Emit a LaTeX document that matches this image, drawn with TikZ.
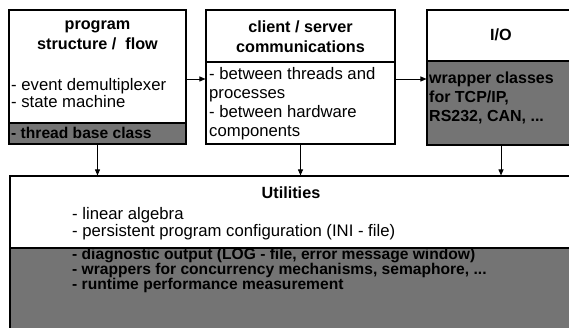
\documentclass[tikz,border=0pt]{standalone}
\usepackage{fontspec}
\setmainfont{Liberation Sans}
\usetikzlibrary{arrows.meta}
\definecolor{shade}{HTML}{747474}
\tikzset{
  frame/.style={draw=black, line width=1.1pt, fill=white, inner sep=0pt},
  band/.style={fill=shade, draw=none},
  flow/.style={draw=black, line width=0.9pt, -{Triangle[length=6pt,width=5pt]}},
  title/.style={inner sep=0pt, align=center, font=\fontsize{16.2pt}{20pt}\selectfont\bfseries},
  body/.style={inner sep=0pt, align=left, anchor=west, font=\fontsize{16.7pt}{18pt}\selectfont},
  dark/.style={inner sep=0pt, align=left, anchor=west, font=\fontsize{15.6pt}{15pt}\selectfont\bfseries},
}
\begin{document}
\begin{tikzpicture}[x=1pt,y=-1pt]
\clip (0,0) rectangle (569,328);
\fill[white] (0,0) rectangle (569,328);

% shaded lower parts of the boxes
\fill[band] (9,123) rectangle (186,144);
\fill[band] (427,61) rectangle (575,145);
\fill[band] (10,248) rectangle (575,345);

% the box outlines
\node[frame, fill=none, minimum width=177pt, minimum height=134pt] (prog) at (97.5,77) {};
\node[frame, fill=none, minimum width=189pt, minimum height=134pt] (comm) at (300.5,77) {};
\node[frame, fill=none, minimum width=148pt, minimum height=135pt] (io) at (501,77.5) {};
\node[frame, fill=none, minimum width=565pt, minimum height=169pt] (util) at (292.5,260.5) {};

% dividers
\draw[line width=1.1pt] (prog.west |- 0,123) -- (prog.east |- 0,123);
\draw[line width=1.1pt] (comm.west |- 0,62) -- (comm.east |- 0,62);
\draw[line width=1.1pt] (io.west |- 0,61) -- (io.east |- 0,61);
\draw[line width=1.1pt] (util.west |- 0,248) -- (util.east |- 0,248);

% program structure / flow
\node[title] (progT) at (97.5,35) {program\\structure /\ \ flow};
\node[body, font=\fontsize{16.7pt}{16.5pt}\selectfont] (progB) at (11,93) {- event demultiplexer\\- state machine};
\node[dark] (progD) at (11,133) {- thread base class};

% client / server communications
\node[title] (commT) at (300.5,37) {client / server\\communications};
\node[body, font=\fontsize{16.7pt}{19pt}\selectfont] (commB) at (209,103.5) {- between threads and\\processes\\- between hardware\\components};

% I/O
\node[title] (ioT) at (501,35) {I/O};
\node[dark, font=\fontsize{16pt}{19pt}\selectfont\bfseries] (ioD) at (429,98) {wrapper classes\\for TCP/IP,\\RS232, CAN, ...};

% Utilities
\node[title] (utilT) at (291,193) {Utilities};
\node[body, font=\fontsize{16.7pt}{17pt}\selectfont] (utilB) at (72,223.5) {- linear algebra\\- persistent program configuration (INI - file)};
\node[dark] (utilD) at (72,270.5) {- diagnostic output (LOG - file, error message window)\\- wrappers for concurrency mechanisms, semaphore, ...\\- runtime performance measurement};

% connectors
\coordinate (row) at (0,79);
\draw[flow] (prog.east |- row) -- (comm.west |- row);
\draw[flow] (comm.east |- row) -- (io.west |- row);
\draw[flow] (prog.south) -- (prog.south |- util.north);
\draw[flow] (comm.south) -- (comm.south |- util.north);
\draw[flow] (io.south) -- (io.south |- util.north);
\end{tikzpicture}
\end{document}
